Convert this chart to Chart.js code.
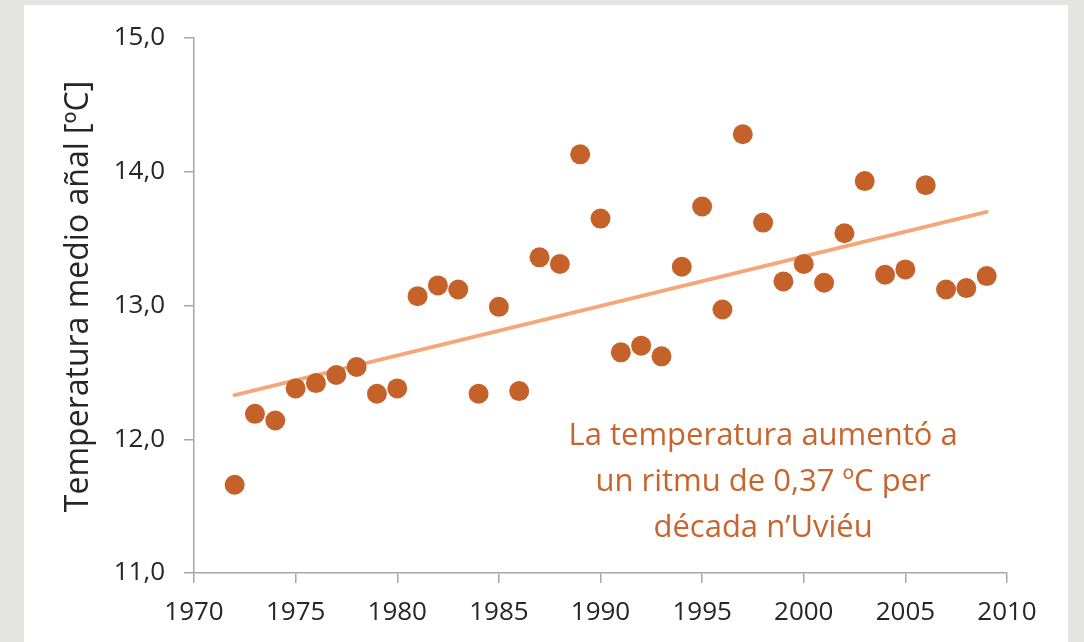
<!DOCTYPE html>
<html>
<head>
<meta charset="utf-8">
<script src="https://cdn.jsdelivr.net/npm/chart.js@4/dist/chart.umd.min.js"></script>
<style>
  html, body { margin: 0; padding: 0; background: #e4e5e3; width: 1084px; height: 642px; overflow: hidden; }
  #panel { position: absolute; left: 24px; top: 5px; width: 1044px; height: 637px; background: #ffffff; }
  #c { position: absolute; left: 0; top: 0; }
</style>
</head>
<body>
<div id="panel"></div>
<canvas id="c" width="1084" height="642"></canvas>
<script>
// ---- data ----
const years = [1972, 1973, 1974, 1975, 1976, 1977, 1978, 1979, 1980, 1981,
               1982, 1983, 1984, 1985, 1986, 1987, 1988, 1989, 1990, 1991,
               1992, 1993, 1994, 1995, 1996, 1997, 1998, 1999, 2000, 2001,
               2002, 2003, 2004, 2005, 2006, 2007, 2008, 2009];
const temperatures = [11.66, 12.19, 12.14, 12.38, 12.42, 12.48, 12.54, 12.34, 12.38, 13.07,
                      13.15, 13.12, 12.34, 12.99, 12.36, 13.36, 13.31, 14.13, 13.65, 12.65,
                      12.70, 12.62, 13.29, 13.74, 12.97, 14.28, 13.62, 13.18, 13.31, 13.17,
                      13.54, 13.93, 13.23, 13.27, 13.90, 13.12, 13.13, 13.22];
const trendYears = [1972, 2009];
const trendValues = [12.33, 13.70];
const yTickValues = [11, 12, 13, 14, 15];
const xTickValues = [1970, 1975, 1980, 1985, 1990, 1995, 2000, 2005, 2010];
const yAxisTitle = 'Temperatura medio añal [ºC]';
const noteLines = ['La temperatura aumentó a', 'un ritmu de 0,37 ºC per', 'década n’Uviéu'];
const noteAnchor = { x: 1998, y: 11.955 };

const FONT = '"Open Sans", "Noto Sans", sans-serif';
const INK = '#262626';
const AXIS = '#a6a6ad';
const DOT = '#c5622a';
const TREND = '#f5a77c';
const NOTE = '#c8642e';

const overlay = {
  id: 'overlay',
  afterDraw(chart) {
    const ctx = chart.ctx;
    const xs = chart.scales.x, ys = chart.scales.y;
    // y axis title
    ctx.save();
    ctx.font = '32px ' + FONT;
    ctx.fillStyle = INK;
    ctx.textAlign = 'center';
    ctx.textBaseline = 'middle';
    ctx.translate(79, (ys.top + ys.bottom) / 2 - 9);
    ctx.rotate(-Math.PI / 2);
    ctx.fillText(yAxisTitle, 0, 0);
    ctx.restore();
    // annotation
    ctx.save();
    ctx.font = '31px ' + FONT;
    ctx.fillStyle = NOTE;
    ctx.textAlign = 'center';
    ctx.textBaseline = 'alphabetic';
    const cx = xs.getPixelForValue(noteAnchor.x);
    const by = ys.getPixelForValue(noteAnchor.y);
    noteLines.forEach((t, i) => ctx.fillText(t, cx, by + i * 46));
    ctx.restore();
  }
};

new Chart(document.getElementById('c'), {
  type: 'scatter',
  data: {
    datasets: [
      {
        type: 'line',
        data: trendYears.map((x, i) => ({ x, y: trendValues[i] })),
        borderColor: TREND,
        borderWidth: 4,
        borderCapStyle: 'round',
        pointRadius: 0,
        fill: false,
        order: 2
      },
      {
        data: years.map((x, i) => ({ x, y: temperatures[i] })),
        backgroundColor: DOT,
        borderWidth: 0,
        pointRadius: 10,
        pointHoverRadius: 10,
        order: 1
      }
    ]
  },
  options: {
    responsive: false,
    animation: false,
    events: [],
    layout: { padding: { top: 38, right: 77, bottom: 0, left: 0 } },
    plugins: { legend: { display: false }, tooltip: { enabled: false } },
    scales: {
      x: {
        type: 'linear',
        min: 1970, max: 2010,
        afterBuildTicks(s) { s.ticks = xTickValues.map(v => ({ value: v })); },
        afterFit(s) { s.height = 69; },
        grid: { display: true, drawOnChartArea: false, drawTicks: true, tickLength: 10, color: AXIS, lineWidth: 1.5 },
        border: { display: true, color: AXIS, width: 1.5 },
        ticks: { color: INK, font: { family: FONT, size: 26 }, padding: 14, maxRotation: 0, autoSkip: false,
                 callback: v => String(v) }
      },
      y: {
        type: 'linear',
        min: 11, max: 15,
        afterBuildTicks(s) { s.ticks = yTickValues.map(v => ({ value: v })); },
        afterFit(s) { s.width = 194; },
        grid: { display: true, drawOnChartArea: false, drawTicks: true, tickLength: 10, color: AXIS, lineWidth: 1.5 },
        border: { display: true, color: AXIS, width: 1.5 },
        ticks: { color: INK, font: { family: FONT, size: 26 }, padding: 19, autoSkip: false,
                 callback: v => v.toFixed(1).replace('.', ',') }
      }
    }
  },
  plugins: [overlay]
});
</script>
</body>
</html>
